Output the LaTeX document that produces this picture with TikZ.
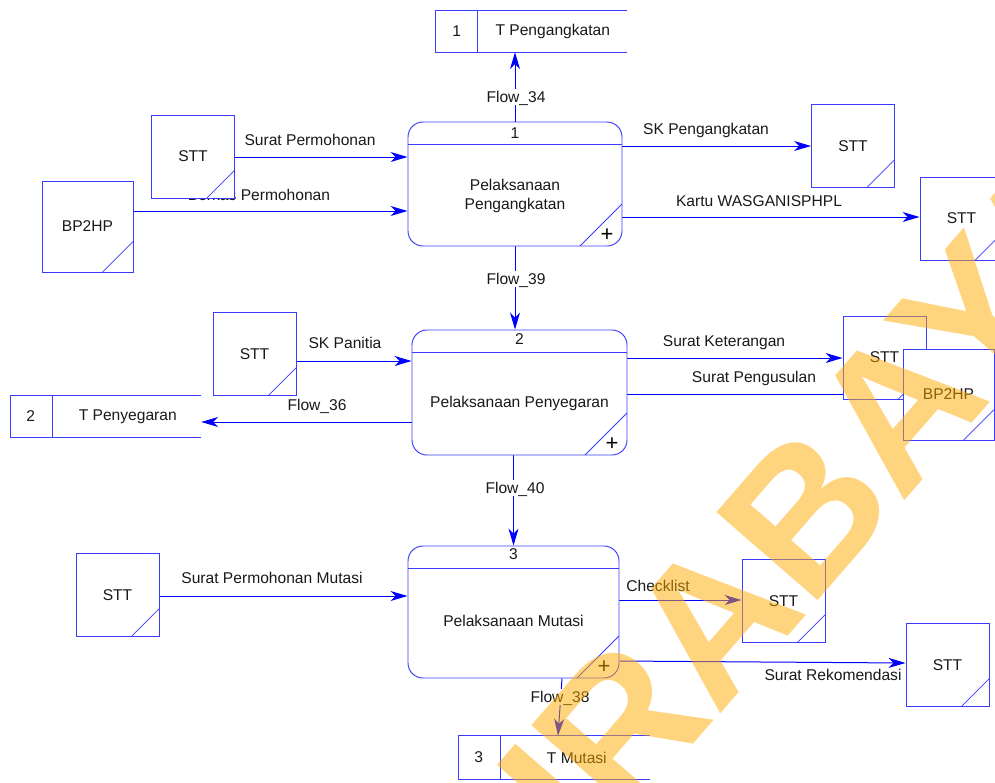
\documentclass[tikz,border=0pt]{standalone}
\usepackage{fontspec}
\setmainfont{Liberation Sans}
\usetikzlibrary{arrows.meta,calc}
\pgfdeclarelayer{back}
\pgfsetlayers{back,main}

\definecolor{lineblue}{RGB}{0,0,255}
\definecolor{boxblue}{RGB}{60,60,255}
\definecolor{ink}{RGB}{25,25,25}
\definecolor{stamp}{RGB}{255,170,0}

\begin{document}
\begin{tikzpicture}[x=1pt,y=-1pt,
  font=\fontsize{15.6pt}{19pt}\selectfont, text=ink,
  every node/.style={inner sep=0pt},
  % data flow connector
  flow/.style={draw=lineblue, line width=1pt,
    -{Stealth[length=17pt,width=10pt,inset=5pt]}},
  % process box: header rule, corner diagonal and "+" marker
  proc/.style={draw=boxblue, line width=0.95pt, fill=white, rounded corners=15pt,
    path picture={
      \draw[boxblue, line width=0.95pt]
        ([yshift=-22pt]path picture bounding box.north west) --
        ([yshift=-22pt]path picture bounding box.north east);
      \draw[boxblue, line width=0.8pt]
        ([yshift=42pt]path picture bounding box.south east) --
        ([xshift=-42pt]path picture bounding box.south east);
      \node[font=\fontsize{22pt}{22pt}\selectfont, text=black]
        at ([xshift=-15pt,yshift=11pt]path picture bounding box.south east) {+};
    }},
  % external entity: square with a diagonal in the lower right corner
  ext/.style={draw=boxblue, line width=0.95pt, fill=white, minimum size=#1pt,
    path picture={
      \draw[boxblue, line width=0.7pt]
        ([yshift=#1pt/3]path picture bounding box.south east) --
        ([xshift=-#1pt/3]path picture bounding box.south east);
    }},
  ext/.default=83,
  store/.style={minimum height=41pt},
  storeline/.style={draw=boxblue, line width=0.95pt},
  lab/.style={text height=11.2pt, text depth=0pt},
  flowlab/.style={lab, fill=white, inner sep=2pt},
  wm/.style={text=stamp, text opacity=0.5,
    font=\fontsize{195pt}{195pt}\selectfont\bfseries}
]
\useasboundingbox (0,0) rectangle (995,782);

% ---------- processes ----------
\node[proc, minimum width=214pt, minimum height=124pt] (P1) at (515,184) {};
\node (P1n) at ([yshift=-12pt]P1.north) {1};
\node[align=center] (P1t) at ([yshift=-12pt]P1.center) {Pelaksanaan\\Pengangkatan};

\node[proc, minimum width=215pt, minimum height=125pt] (P2) at (519.5,392.5) {};
\node (P2n) at ([yshift=-10pt]P2.north) {2};
\node (P2t) at ([yshift=-11pt]P2.center) {Pelaksanaan Penyegaran};

\node[proc, minimum width=211pt, minimum height=132pt] (P3) at (513.5,612) {};
\node (P3n) at ([yshift=-9pt]P3.north) {3};
\node (P3t) at ([yshift=-9pt]P3.center) {Pelaksanaan Mutasi};

% ---------- data stores ----------
\node[store, minimum width=191pt] (S1) at (531.5,31.5) {};
\draw[storeline] (S1.north east) -- (S1.north west) -- (S1.south west) -- (S1.south east);
\draw[storeline] ([xshift=42pt]S1.north west) -- ([xshift=42pt]S1.south west);
\node (S1n) at ([xshift=21pt]S1.west) {1};
\node (S1t) at ([xshift=117pt]S1.west) {T Pengangkatan};

\node[store, minimum width=190pt] (S2) at (106,416.5) {};
\draw[storeline] (S2.north east) -- (S2.north west) -- (S2.south west) -- (S2.south east);
\draw[storeline] ([xshift=42pt]S2.north west) -- ([xshift=42pt]S2.south west);
\node (S2n) at ([xshift=20pt]S2.west) {2};
\node (S2t) at ([xshift=117pt]S2.west) {T Penyegaran};

\node[store, minimum width=191pt, minimum height=43pt] (S3) at (554.5,757.5) {};
\draw[storeline] (S3.north east) -- (S3.north west) -- (S3.south west) -- (S3.south east);
\draw[storeline] ([xshift=42pt]S3.north west) -- ([xshift=42pt]S3.south west);
\node (S3n) at ([xshift=20pt]S3.west) {3};
\node (S3t) at ([xshift=118pt]S3.west) {T Mutasi};

% ---------- external entities ----------
\node[ext] (E1) at (193,156.5) {STT};
\node[ext=91] (E2) at (87.5,226.5) {BP2HP};
\node[ext] (E3) at (853,146) {STT};
\node[ext] (E4) at (961.5,218.5) {STT};
\node[ext] (E5) at (254.5,354) {STT};
\node[ext] (E6) at (884.5,357.5) {STT};
\node[ext=91] (E7) at (948.5,394.5) {BP2HP};
\node[ext] (E8) at (117.5,595) {STT};
\node[ext] (E9) at (783.5,601) {STT};
\node[ext] (E10) at (947.5,665) {STT};

% ---------- flows ----------
\begin{pgfonlayer}{back}
  \draw[flow] (P1.north) -- (P1.north |- S1.south);
  \draw[flow] (E1.east |- 0,157) -- (P1.west |- 0,157);
  \draw[flow] (E2.east |- 0,211) -- (P1.west |- 0,211);
  \draw[flow] (P1.east |- 0,146) -- (E3.west |- 0,146);
  \draw[flow] (P1.east |- 0,217) -- (E4.west |- 0,217);
  \draw[flow] (P1.south) -- (P1.south |- P2.north);

  \draw[flow] (E5.east |- 0,361) -- (P2.west |- 0,361);
  \draw[flow] (P2.west |- 0,422) -- (S2.east |- 0,422);
  \draw[flow] (P2.east |- 0,358) -- (E6.west |- 0,358);
  \draw[flow] (P2.east |- 0,394) -- (E7.west |- 0,394);
  \draw[flow] (P3.north |- P2.south) -- (P3.north);

  \draw[flow] (E8.east |- 0,596) -- (P3.west |- 0,596);
  \draw[flow] (P3.east |- 0,600) -- (E9.west |- 0,600);
  \draw[flow] (P3.east |- 0,661) -- (E10.west |- 0,663);
  \draw[flow] (P3.south -| 562,0) -- (S3.north -| 558,0);

  % flow names
  \node[flowlab] (L34) at (516,97) {Flow\_34};
  \node[flowlab] (L39) at (516,279) {Flow\_39};
  \node[flowlab] (L40) at (515,488) {Flow\_40};
  \node[flowlab] (L38) at (560,697) {Flow\_38};
  \node[lab] (L36) at (317,405) {Flow\_36};
  \node[lab] (Lsp) at (310,140) {Surat Permohonan};
  \node[lab] (Lbp) at (259,195) {Berkas Permohonan};
  \node[lab] (Lskp) at (706,129) {SK Pengangkatan};
  \node[lab] (Lkw) at (759,201) {Kartu WASGANISPHPL};
  \node[lab] (Lpan) at (345,343) {SK Panitia};
  \node[lab] (Lket) at (724,341) {Surat Keterangan};
  \node[lab] (Lusl) at (754,377) {Surat Pengusulan};
  \node[lab] (Lspm) at (272,578) {Surat Permohonan Mutasi};
  \node[lab] (Lchk) at (658,586) {Checklist};
  \node[lab] (Lrek) at (833,675) {Surat Rekomendasi};
\end{pgfonlayer}

% ---------- stamp ----------
\node[wm, rotate=49, anchor=base west] (stampword) at (447,1028) {SURABAYA};
\end{tikzpicture}
\end{document}
